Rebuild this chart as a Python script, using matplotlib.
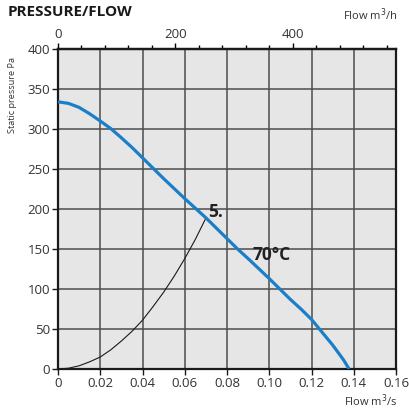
import matplotlib
matplotlib.use("Agg")
import matplotlib.pyplot as plt
from matplotlib.ticker import FixedLocator

plt.rcParams['font.family'] = ['Open Sans', 'DejaVu Sans']

# Fan curve (70°C): flow m3/s, static pressure Pa
fan_flow = [0.0, 0.005, 0.01, 0.015, 0.02, 0.025, 0.03, 0.035, 0.04, 0.045,
            0.05, 0.055, 0.06, 0.065, 0.07, 0.075, 0.08, 0.085, 0.09, 0.095,
            0.10, 0.105, 0.11, 0.115, 0.12, 0.125, 0.13, 0.135, 0.1378]
fan_pa = [334, 332, 327, 319, 310, 300.5, 289, 277, 264, 251,
          238, 225.5, 213, 201, 189, 176, 163, 150, 138, 125.5,
          113, 100, 87, 75, 62, 46, 30, 12, 0]

# System curve "5."
sys_flow = [0.0, 0.005, 0.01, 0.015, 0.02, 0.025, 0.03, 0.035, 0.04, 0.045,
            0.05, 0.055, 0.06, 0.065, 0.0697]
sys_pa = [0, 1, 4, 9, 15, 24, 35, 47, 61, 78, 96, 116, 138, 162, 187]

x_ticks = [0, 0.02, 0.04, 0.06, 0.08, 0.10, 0.12, 0.14, 0.16]
x_labels = ["0", "0.02", "0.04", "0.06", "0.08", "0.10", "0.12", "0.14", "0.16"]
y_ticks = [0, 50, 100, 150, 200, 250, 300, 350, 400]
top_ticks = [0, 200, 400]
top_minor = list(range(0, 577, 40))

fig = plt.figure(figsize=(4.09, 4.12), dpi=100)
ax = fig.add_axes([58/409, 1-369/412, (396-58)/409, (369-49)/412])
ax.set_facecolor('#e6e6e6')
ax.set_xlim(0, 0.16)
ax.set_ylim(0, 400)
ax.set_xticks(x_ticks)
ax.set_xticklabels(x_labels)
ax.set_yticks(y_ticks)
ax.grid(True, color='#4d4d4d', linewidth=1.1)
ax.set_axisbelow(True)
for s in ax.spines.values():
    s.set_linewidth(1.6)
    s.set_color('#1a1a1a')
ax.tick_params(axis='both', labelsize=9.5, colors='#1a1a1a', width=1.0, length=4, pad=1.5)
ax.tick_params(axis='x', labelcolor='#333333')
ax.tick_params(axis='y', labelcolor='#333333')

ax.plot(sys_flow, sys_pa, color='#1a1a1a', linewidth=0.8, zorder=3)
ax.plot(fan_flow, fan_pa, color='#1b7fc8', linewidth=2.3, solid_capstyle='butt',
        solid_joinstyle='round', zorder=4)

ax.text(0.0709, 190, "5.", fontsize=12.5, fontweight='bold', color='#222222',
        va='baseline', ha='left', zorder=5)
ax.text(0.0920, 136, "70°C", fontsize=12.5, fontweight='bold', color='#222222',
        va='baseline', ha='left', zorder=5)

top = ax.secondary_xaxis('top', functions=(lambda q: q*3600, lambda q: q/3600))
top.set_xticks(top_ticks)
top.xaxis.set_minor_locator(FixedLocator(top_minor))
top.tick_params(axis='x', which='major', labelsize=9.5, labelcolor='#333333', length=4, width=1.0, pad=1.5)
top.tick_params(axis='x', which='minor', length=3, width=1.0)
top.spines['top'].set_linewidth(1.6)

fig.text(8/409, 1-12/412, "PRESSURE/FLOW", fontsize=11, fontweight='bold', color='#1a1a1a', va='center', ha='left')
fig.text(397/409, 1-15/412, "Flow m$^3$/h", fontsize=8, color='#333333', va='center', ha='right')
fig.text(397/409, 1-401/412, "Flow m$^3$/s", fontsize=8, color='#333333', va='center', ha='right')
fig.text(13/409, 1-57/412, "Static pressure Pa", fontsize=6.6, color='#333333', rotation=90, va='top', ha='center')

fig.savefig("out.png", dpi=100)
